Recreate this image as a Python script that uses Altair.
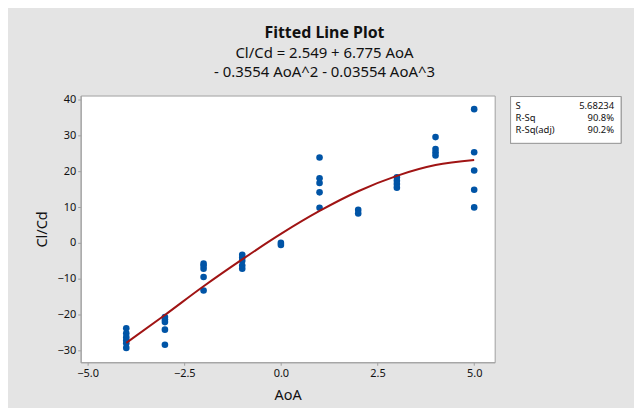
import altair as alt
import pandas as pd

aoa = ([-4] * 6 + [-3] * 5 + [-2] * 5 + [-1] * 5 + [0] * 2 + [1] * 5 +
       [2] * 2 + [3] * 4 + [4] * 4 + [5] * 5)
cl_cd = [-23.8, -25.2, -26.3, -27.2, -28.0, -29.3,
         -20.7, -21.4, -22.1, -24.2, -28.4,
         -5.8, -6.4, -7.2, -9.5, -13.3,
         -3.3, -4.1, -5.0, -6.3, -7.2,
         0.0, -0.6,
         23.8, 18.0, 16.7, 14.1, 9.8,
         9.2, 8.2,
         18.3, 17.3, 16.4, 15.4,
         29.5, 26.2, 25.3, 24.4,
         37.3, 25.3, 20.2, 14.8, 9.9]

# Fitted cubic line values
fit_aoa = [-4, -3, -2, -1, 0, 1, 2, 3, 4, 5]
fit_val = [-27.9, -20.1, -12.1, -4.6, 2.5, 8.9, 14.4, 18.7, 21.7, 23.1]

# Summary box
stat_names = ["S", "R-Sq", "R-Sq(adj)"]
stat_values = ["5.68234", "90.8%", "90.2%"]

x_ticks = [-5.0, -2.5, 0.0, 2.5, 5.0]
y_ticks = [-30.0, -20.0, -10.0, 0.0, 10.0, 20.0, 30.0, 40.0]

FONT = "Noto Sans"
W, H = 416, 268

pts = pd.DataFrame({"AoA": aoa, "ClCd": cl_cd})
fit = pd.DataFrame({"AoA": fit_aoa, "ClCd": fit_val})

xs = alt.Scale(domain=[-5.18, 5.53], nice=False, zero=False)
ys = alt.Scale(domain=[-33.3, 41.1], nice=False, zero=False)

xax = alt.Axis(values=x_ticks, format=".1f", title="AoA", titleY=37,
               titleBaseline="alphabetic", labelOverlap=False)
yax = alt.Axis(values=y_ticks, format=".0f", title="Cl/Cd", titleX=-34,
               titleY=H / 2, titleAngle=-90, titleBaseline="alphabetic",
               titleAlign="center", labelOverlap=False)

points = alt.Chart(pts).mark_circle(size=44, color="#0054a6", opacity=1).encode(
    x=alt.X("AoA:Q", scale=xs, axis=xax),
    y=alt.Y("ClCd:Q", scale=ys, axis=yax),
)

line = alt.Chart(fit).mark_line(color="#a01414", strokeWidth=2,
                                interpolate="monotone").encode(
    x=alt.X("AoA:Q", scale=xs, axis=xax),
    y=alt.Y("ClCd:Q", scale=ys, axis=yax),
)

stats = pd.DataFrame({"name": stat_names, "value": stat_values})

box = alt.Chart(stats).mark_rect(fill="white", stroke="#9a9a9a",
                                 strokeWidth=1).encode(
    x=alt.value(432), x2=alt.value(543), y=alt.value(1), y2=alt.value(48)
)

row_y = [14, 26, 38]
texts = []
for i in range(3):
    sub = stats.iloc[[i]]
    texts.append(alt.Chart(sub).mark_text(align="left", baseline="alphabetic",
                                          font=FONT, fontSize=9.5,
                                          color="#111").encode(
        x=alt.value(437), y=alt.value(row_y[i]), text="name:N"))
    texts.append(alt.Chart(sub).mark_text(align="right", baseline="alphabetic",
                                          font=FONT, fontSize=9.5,
                                          color="#111").encode(
        x=alt.value(536), y=alt.value(row_y[i]), text="value:N"))

chart = alt.layer(points, line, box, *texts).properties(
    width=W, height=H,
    title=alt.TitleParams(
        text="Fitted Line Plot",
        subtitle=["Cl/Cd = 2.549 + 6.775 AoA", "- 0.3554 AoA^2 - 0.03554 AoA^3"],
        anchor="middle", frame="group", dx=37, offset=14,
        font=FONT, fontSize=16, fontWeight="bold", color="#111",
        subtitleFont=FONT, subtitleFontSize=15, subtitleColor="#111",
        subtitleLineHeight=19, subtitlePadding=5,
    ),
    autosize=alt.AutoSizeParams(type="none"),
    padding={"left": 73, "top": 87, "right": 140, "bottom": 45},
    background="#e4e4e4",
).configure_view(
    fill="white", stroke="#a0a0a0", strokeWidth=1
).configure_axis(
    grid=False, domainColor="#a0a0a0", tickColor="#a0a0a0", tickSize=3,
    labelFont=FONT, labelFontSize=11, labelColor="#111", labelPadding=2,
    labelOverlap=False,
    titleFont=FONT, titleFontSize=14.5, titleFontWeight="normal", titleColor="#111",
)

chart.save("out.html", embed_options={"renderer": "svg", "actions": False})
